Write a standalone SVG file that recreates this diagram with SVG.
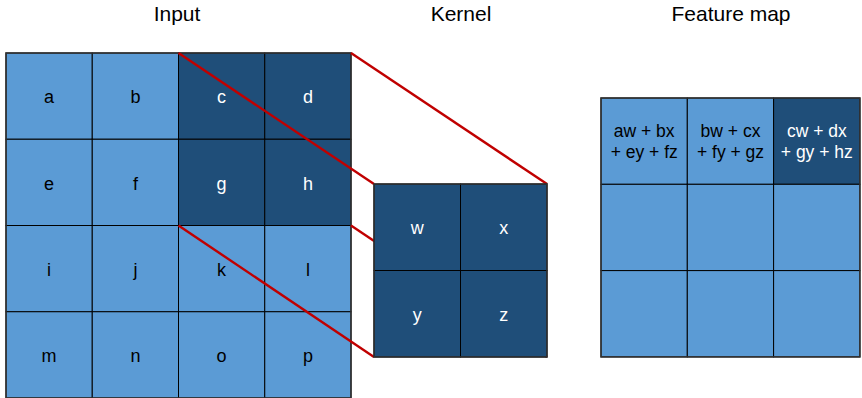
<svg xmlns="http://www.w3.org/2000/svg" width="862" height="398" viewBox="0 0 862 398">
  <style>
    .title { font-family: "Liberation Sans", Arial, sans-serif; font-size: 21px; fill: #000; text-anchor: middle; }
    .lbl { font-family: "Liberation Sans", Arial, sans-serif; font-size: 18px; text-anchor: middle; }
    .fm { font-family: "Liberation Sans", Arial, sans-serif; font-size: 17.5px; text-anchor: middle; }
    .light { fill: #5b9bd5; stroke: #000; stroke-width: 1; }
    .dark { fill: #1f4e79; stroke: #000; stroke-width: 1; }
    .tl { fill: #000; }
    .td { fill: #fff; }
    .frame { fill: none; stroke: #333; stroke-width: 1.5; }
    .link { stroke: #c00000; stroke-width: 2.4; fill: none; }
  </style>

  <!-- Titles -->
  <text class="title" x="177" y="21">Input</text>
  <text class="title" x="461" y="21">Kernel</text>
  <text class="title" x="731" y="21">Feature map</text>

  <!-- Input 4x4 grid -->
  <g id="input">
    <rect class="light" x="6" y="53" width="86.25" height="86.25"/>
    <rect class="light" x="92.25" y="53" width="86.25" height="86.25"/>
    <rect class="dark" x="178.5" y="53" width="86.25" height="86.25"/>
    <rect class="dark" x="264.75" y="53" width="86.25" height="86.25"/>
    <rect class="light" x="6" y="139.25" width="86.25" height="86.25"/>
    <rect class="light" x="92.25" y="139.25" width="86.25" height="86.25"/>
    <rect class="dark" x="178.5" y="139.25" width="86.25" height="86.25"/>
    <rect class="dark" x="264.75" y="139.25" width="86.25" height="86.25"/>
    <rect class="light" x="6" y="225.5" width="86.25" height="86.25"/>
    <rect class="light" x="92.25" y="225.5" width="86.25" height="86.25"/>
    <rect class="light" x="178.5" y="225.5" width="86.25" height="86.25"/>
    <rect class="light" x="264.75" y="225.5" width="86.25" height="86.25"/>
    <rect class="light" x="6" y="311.75" width="86.25" height="86.25"/>
    <rect class="light" x="92.25" y="311.75" width="86.25" height="86.25"/>
    <rect class="light" x="178.5" y="311.75" width="86.25" height="86.25"/>
    <rect class="light" x="264.75" y="311.75" width="86.25" height="86.25"/>
    <rect class="frame" x="6" y="53" width="345" height="345"/>
    <text class="lbl tl" x="49.1" y="103.3">a</text>
    <text class="lbl tl" x="135.4" y="103.3">b</text>
    <text class="lbl td" x="221.6" y="103.3">c</text>
    <text class="lbl td" x="307.9" y="103.3">d</text>
    <text class="lbl tl" x="49.1" y="189.5">e</text>
    <text class="lbl tl" x="135.4" y="189.5">f</text>
    <text class="lbl td" x="221.6" y="189.5">g</text>
    <text class="lbl td" x="307.9" y="189.5">h</text>
    <text class="lbl tl" x="49.1" y="275.8">i</text>
    <text class="lbl tl" x="135.4" y="275.8">j</text>
    <text class="lbl tl" x="221.6" y="275.8">k</text>
    <text class="lbl tl" x="307.9" y="275.8">l</text>
    <text class="lbl tl" x="49.1" y="362">m</text>
    <text class="lbl tl" x="135.4" y="362">n</text>
    <text class="lbl tl" x="221.6" y="362">o</text>
    <text class="lbl tl" x="307.9" y="362">p</text>
  </g>

  <!-- Projection lines from the 2x2 window to the kernel -->
  <g id="connectors">
    <line class="link" x1="178.5" y1="53" x2="374" y2="184"/>
    <line class="link" x1="351" y1="53" x2="547" y2="184"/>
    <line class="link" x1="178.5" y1="225.5" x2="374" y2="357"/>
    <line class="link" x1="351" y1="225.5" x2="547" y2="357"/>
  </g>

  <!-- Kernel 2x2 -->
  <g id="kernel">
    <rect class="dark" x="374" y="184" width="86.5" height="86.5"/>
    <rect class="dark" x="460.5" y="184" width="86.5" height="86.5"/>
    <rect class="dark" x="374" y="270.5" width="86.5" height="86.5"/>
    <rect class="dark" x="460.5" y="270.5" width="86.5" height="86.5"/>
    <rect class="frame" x="374" y="184" width="173" height="173"/>
    <text class="lbl td" x="417.3" y="234.3">w</text>
    <text class="lbl td" x="503.8" y="234.3">x</text>
    <text class="lbl td" x="417.3" y="320.8">y</text>
    <text class="lbl td" x="503.8" y="320.8">z</text>
  </g>

  <!-- Feature map 3x3 -->
  <g id="feature-map">
    <rect class="light" x="601" y="98" width="86.3" height="86.3"/>
    <rect class="light" x="687.3" y="98" width="86.3" height="86.3"/>
    <rect class="dark" x="773.6" y="98" width="86.3" height="86.3"/>
    <rect class="light" x="601" y="184.3" width="86.3" height="86.3"/>
    <rect class="light" x="687.3" y="184.3" width="86.3" height="86.3"/>
    <rect class="light" x="773.6" y="184.3" width="86.3" height="86.3"/>
    <rect class="light" x="601" y="270.6" width="86.3" height="86.3"/>
    <rect class="light" x="687.3" y="270.6" width="86.3" height="86.3"/>
    <rect class="light" x="773.6" y="270.6" width="86.3" height="86.3"/>
    <rect class="frame" x="601" y="98" width="258.9" height="258.9"/>
    <text class="fm tl" x="644.2" y="136.7">aw + bx</text>
    <text class="fm tl" x="644.2" y="158">+ ey + fz</text>
    <text class="fm tl" x="730.5" y="136.7">bw + cx</text>
    <text class="fm tl" x="730.5" y="158">+ fy + gz</text>
    <text class="fm td" x="816.8" y="136.7">cw + dx</text>
    <text class="fm td" x="816.8" y="158">+ gy + hz</text>
  </g>
</svg>
